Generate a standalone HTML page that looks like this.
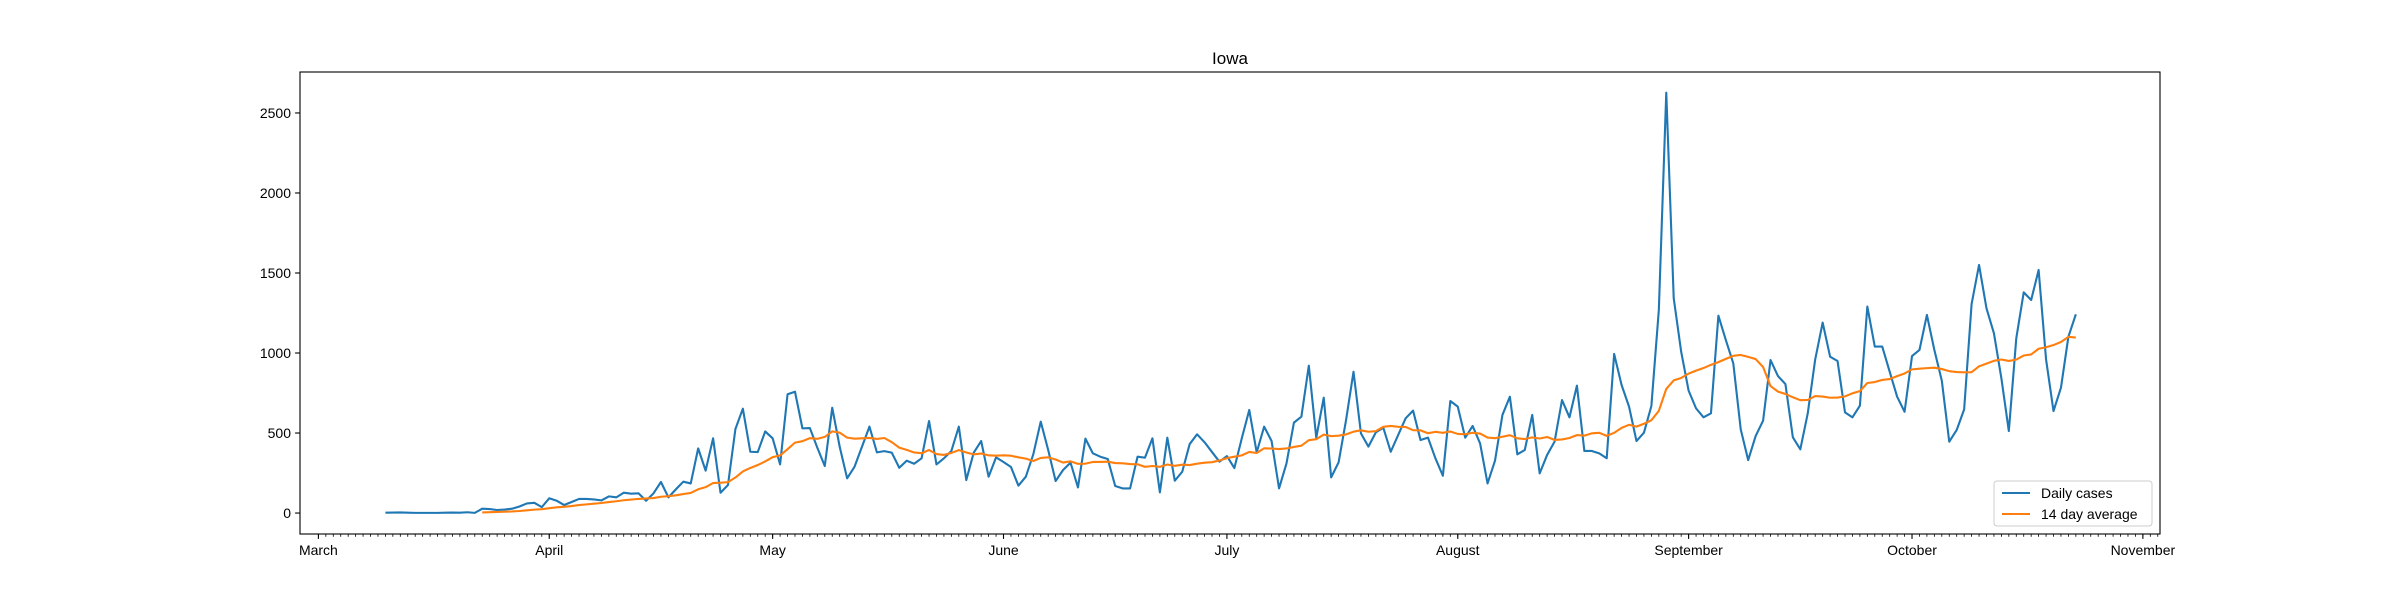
<!DOCTYPE html>
<html><head><meta charset="utf-8"><style>
html,body{margin:0;padding:0;background:#fff;}
svg{display:block;font-family:"Liberation Sans","DejaVu Sans",sans-serif;}
</style></head><body>
<svg id="chart" width="2400" height="600" viewBox="0 0 2400 600" xmlns="http://www.w3.org/2000/svg">
<rect width="2400" height="600" fill="#fff"/>
<text x="1230" y="64" font-size="17" text-anchor="middle" fill="#000">Iowa</text>
<g id="plot"></g>
<g id="axes"></g>
<g>
<rect x="1994" y="481" width="158" height="45" rx="3" fill="#fff" fill-opacity="0.8" stroke="#ccc" stroke-width="1"/>
<line x1="2002" y1="493" x2="2030" y2="493" stroke="#1f77b4" stroke-width="2.1"/>
<text x="2041" y="498" font-size="14" fill="#000">Daily cases</text>
<line x1="2002" y1="514" x2="2030" y2="514" stroke="#ff7f0e" stroke-width="2.1"/>
<text x="2041" y="519" font-size="14" fill="#000">14 day average</text>
</g>
</svg>
<script>
// days since March 1 for first value
const startDay = 9;
const dailyCases = [
2,3,4,2,1,1,1,1,2,3,2,5,1,
27,25,19,22,27,41,60,64,37,92,77,50,69,88,88,85,79,104,98,127,121,123,77,123,194,
98,148,196,185,404,265,467,127,175,525,652,383,381,510,
467,304,742,758,529,531,408,294,658,415,217,290,415,540,379,387,377,283,327,308,342,575,304,342,388,540,
206,377,450,227,348,319,288,171,227,367,571,394,200,269,315,160,465,373,352,338,169,154,154,352,346,467,129,471,202,258,431,492,442,381,321,356,281,467,
644,379,540,450,154,310,565,602,921,471,721,223,317,581,883,498,415,504,533,383,488,592,640,456,471,342,233,700,665,471,544,435,185,327,613,727,367,394,613,
248,363,446,706,598,796,388,388,373,342,994,800,665,450,502,669,1269,2627,1342,1008,765,654,598,623,1233,1081,935,523,331,481,577,956,856,806,473,398,623,960,1190,
977,950,629,598,671,1290,1040,1040,883,727,633,981,1019,1238,1019,827,446,519,648,1306,1550,1279,1123,842,512,1092,1379,1331,1519,960,637,783,1102,1242
];
const windowSize = 14;
const monthLabels = ["March","April","May","June","July","August","September","October","November"];
const monthDays = [0,31,61,92,122,153,184,214,245];
const yTicks = [0,500,1000,1500,2000,2500];

const L=300,R=2160,T=72,B=534;
const xMin=-2.47,xMax=247.3,yMin=-131,yMax=2756;
function xs(d){return L+(d-xMin)/(xMax-xMin)*(R-L);}
function ys(v){return B-(v-yMin)/(yMax-yMin)*(B-T);}
const NS="http://www.w3.org/2000/svg";
const plot=document.getElementById('plot'), axes=document.getElementById('axes');
function mk(tag,attrs,parent){const e=document.createElementNS(NS,tag);for(const k in attrs)e.setAttribute(k,attrs[k]);parent.appendChild(e);return e;}

let pts=dailyCases.map((v,i)=>xs(startDay+i).toFixed(2)+','+ys(v).toFixed(2)).join(' ');
const daily=mk('polyline',{points:pts,fill:'none',stroke:'#1f77b4','stroke-width':2.1,'stroke-linejoin':'round'},plot);



let avgPts=[];
for(let i=windowSize-1;i<dailyCases.length;i++){
  let s=0;for(let j=i-windowSize+1;j<=i;j++)s+=dailyCases[j];
  avgPts.push(xs(startDay+i).toFixed(2)+','+ys(s/windowSize).toFixed(2));
}
const avg=mk('polyline',{points:avgPts.join(' '),fill:'none',stroke:'#ff7f0e','stroke-width':2.1,'stroke-linejoin':'round'},plot);



// axes frame
const frame=mk('rect',{x:L,y:T,width:R-L,height:B-T,fill:'none',stroke:'#000','stroke-width':1.1},axes);



// minor ticks daily
for(let d=0;d<=247;d++){
  const m=mk('line',{x1:xs(d),y1:B,x2:xs(d),y2:B+2.8,stroke:'#000','stroke-width':0.8},axes);
  
  
}
monthDays.forEach((d,i)=>{
  const t=mk('line',{x1:xs(d),y1:B,x2:xs(d),y2:B+4.9,stroke:'#000','stroke-width':1.1},axes);
  
  
  const lb=mk('text',{x:xs(d),y:B+21,'font-size':14,'text-anchor':'middle',fill:'#000'},axes);
  lb.textContent=monthLabels[i];
  
  
});
yTicks.forEach(v=>{
  const t=mk('line',{x1:L-4.9,y1:ys(v),x2:L,y2:ys(v),stroke:'#000','stroke-width':1.1},axes);
  
  
  const lb=mk('text',{x:L-9,y:ys(v)+5,'font-size':14,'text-anchor':'end',fill:'#000'},axes);
  lb.textContent=String(v);
  
  
});
</script>
</body></html>
